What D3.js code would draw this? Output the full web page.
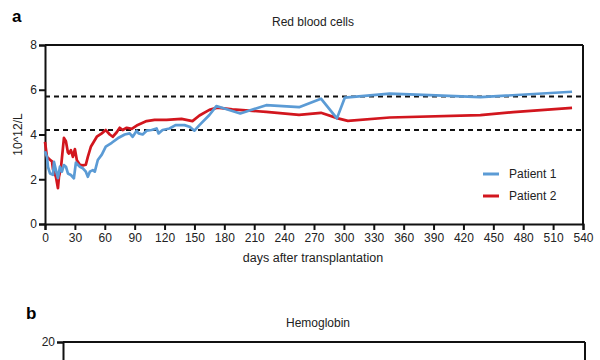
<!DOCTYPE html>
<html><head><meta charset="utf-8">
<script src="https://cdn.jsdelivr.net/npm/d3@7"></script>
<style>body{margin:0;background:#fff}svg{display:block}text{font-family:"Liberation Sans",Arial,sans-serif}</style>
</head><body><svg id="c" width="600" height="360"></svg>
<script>
const xTicks = d3.range(0, 541, 30);
const yTicksA = [0, 2, 4, 6, 8];
const refLines = [5.7, 4.2];
const seriesNames = ["Patient 1", "Patient 2"];
const p1Days = [0,2,3,5,8,9,11,13,15,17,19,21,23,26,29,31,35,38,41,43,45,48,50,53,57,61,67,73,80,85,88,92,94,98,102,107,112,114,118,125,131,140,145,150,155,165,172,196,222,255,277,293,301,346,386,437,529];
const p1Vals = [3.25,3.0,2.55,2.26,2.2,2.78,2.4,2.05,2.56,2.34,2.63,2.56,2.26,2.19,2.04,2.74,2.56,2.49,2.34,2.11,2.34,2.41,2.34,2.86,3.1,3.46,3.63,3.83,4.0,4.05,3.9,4.17,4.05,4.0,4.17,4.2,4.27,4.05,4.2,4.27,4.42,4.42,4.35,4.17,4.42,4.87,5.27,4.94,5.31,5.22,5.6,4.72,5.65,5.83,5.76,5.67,5.91];
const p2Days = [0,2,5,7,8,11,13,14,16,17,19,21,23,24,26,28,30,32,35,38,41,43,46,52,57,61,65,68,72,75,78,82,87,92,97,102,110,122,137,148,155,165,173,188,222,255,277,294,304,346,437,470,529];
const p2Vals = [3.67,3.0,2.87,2.8,2.45,2.1,1.6,2.1,2.5,2.95,3.85,3.7,3.2,3.15,3.3,3.0,3.35,2.85,2.65,2.62,2.65,3.0,3.45,3.9,4.05,4.2,4.0,3.9,4.1,4.3,4.2,4.3,4.25,4.4,4.5,4.6,4.65,4.65,4.7,4.6,4.85,5.1,5.2,5.12,5.01,4.88,4.97,4.72,4.61,4.76,4.87,5.0,5.19];
const colors = ["#5b9bd5", "#d2161e"];
const yTicksB = [20];

const svg = d3.select("#c");
const F = "'Liberation Sans',Arial,sans-serif";

// Panel a
const L = 45, R = 583, T = 45, B = 224;
const x = d3.scaleLinear().domain([0, 540]).range([L, R]);
const y = d3.scaleLinear().domain([0, 8]).range([B, T]);

svg.append("text").attr("x", 12).attr("y", 22).attr("font-size", 17).attr("font-weight", "bold").text("a");
svg.append("text").attr("x", 313).attr("y", 26).attr("text-anchor", "middle").attr("font-size", 12).attr("fill", "#222").text("Red blood cells");

svg.append("line").attr("x1", L).attr("x2", R).attr("y1", T).attr("y2", T).attr("stroke", "#111").attr("stroke-width", 2);
svg.append("line").attr("x1", R).attr("x2", R).attr("y1", T).attr("y2", B).attr("stroke", "#111").attr("stroke-width", 2);

refLines.forEach(v => {
  svg.append("line").attr("x1", L).attr("x2", R).attr("y1", y(v)).attr("y2", y(v))
    .attr("stroke", "#111").attr("stroke-width", 2).attr("stroke-dasharray", "5,4");
});

const gx = svg.append("g").attr("transform", `translate(0,${B})`)
  .call(d3.axisBottom(x).tickValues(xTicks).tickSize(6).tickPadding(3));
const gy = svg.append("g").attr("transform", `translate(${L},0)`)
  .call(d3.axisLeft(y).tickValues(yTicksA).tickSize(6).tickPadding(2));
[gx, gy].forEach(g => {
  g.select(".domain").attr("stroke", "#111").attr("stroke-width", 2);
  g.selectAll(".tick line").attr("stroke", "#111").attr("stroke-width", 2);
  g.selectAll(".tick text").attr("font-size", 12).attr("fill", "#222").attr("font-family", F);
});

svg.append("text").attr("x", 313).attr("y", 262).attr("text-anchor", "middle").attr("font-size", 12.5).attr("fill", "#222").text("days after transplantation");
svg.append("text").attr("transform", `translate(22,${(T + B) / 2}) rotate(-90)`).attr("text-anchor", "middle").attr("font-size", 12).attr("fill", "#222").text("10^12/L");

const line = d3.line().x(d => x(d[0])).y(d => y(d[1]));
const data = [d3.zip(p1Days, p1Vals), d3.zip(p2Days, p2Vals)];
[1, 0].forEach(i => {
  svg.append("path").datum(data[i]).attr("d", line).attr("fill", "none")
    .attr("stroke", colors[i]).attr("stroke-width", 2.7).attr("stroke-linejoin", "round");
});

seriesNames.forEach((n, i) => {
  const ly = 174 + i * 22;
  svg.append("line").attr("x1", 483).attr("x2", 499).attr("y1", ly).attr("y2", ly).attr("stroke", colors[i]).attr("stroke-width", 3);
  svg.append("text").attr("x", 509).attr("y", ly + 4).attr("font-size", 12).attr("fill", "#222").text(n);
});

// Panel b
const L2 = 63, R2 = 585, T2 = 342;
const y2 = d3.scaleLinear().domain([0, 20]).range([T2 + 180, T2]);
svg.append("text").attr("x", 26).attr("y", 319).attr("font-size", 17).attr("font-weight", "bold").text("b");
svg.append("text").attr("x", 318).attr("y", 327).attr("text-anchor", "middle").attr("font-size", 12).attr("fill", "#222").text("Hemoglobin");
svg.append("line").attr("x1", L2).attr("x2", R2).attr("y1", T2).attr("y2", T2).attr("stroke", "#111").attr("stroke-width", 2);
svg.append("line").attr("x1", R2).attr("x2", R2).attr("y1", T2).attr("y2", T2 + 180).attr("stroke", "#111").attr("stroke-width", 2);
const gy2 = svg.append("g").attr("transform", `translate(${L2},0)`)
  .call(d3.axisLeft(y2).tickValues(yTicksB).tickSize(6).tickPadding(2));
gy2.select(".domain").attr("stroke", "#111").attr("stroke-width", 2);
gy2.selectAll(".tick line").attr("stroke", "#111").attr("stroke-width", 2);
gy2.selectAll(".tick text").attr("font-size", 12).attr("fill", "#222").attr("font-family", F);
</script></body></html>
